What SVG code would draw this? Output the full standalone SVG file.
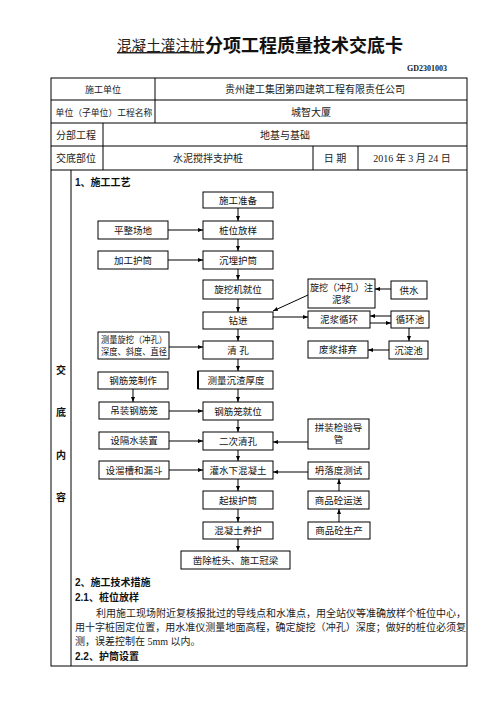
<svg xmlns="http://www.w3.org/2000/svg" width="496" height="702" viewBox="0 0 496 702">
<defs>
<style>
.t{font-family:"Liberation Serif","Noto Sans CJK SC",serif;fill:#222;}
.s{font-family:"Liberation Sans","Noto Sans CJK SC",sans-serif;fill:#111;}
.b{font-weight:bold;}
.box{fill:#fff;stroke:#000;stroke-width:1;}
.grid{stroke:#000;stroke-width:1;fill:none;}
.c line{stroke:#000;stroke-width:1;}
</style>
<marker id="a" viewBox="0 0 10 10" refX="10" refY="5" markerWidth="5" markerHeight="5" orient="auto"><path d="M0,1 L10,5 L0,9 z" fill="#000"/></marker>
</defs>
<rect width="496" height="702" fill="#fff"/>
<!-- title -->
<text class="t" x="117" y="51" font-size="14.6" fill="#333" text-decoration="underline">混凝土灌注桩</text>
<text class="s b" x="205" y="52" font-size="18">分项工程质量技术交底卡</text>
<text class="t b" x="447" y="71" font-size="8" text-anchor="end">GD2301003</text>
<!-- table -->
<g id="table">
<rect class="grid" x="51" y="78" width="416" height="588"/>
<line class="grid" x1="51" y1="100" x2="467" y2="100"/>
<line class="grid" x1="51" y1="123" x2="467" y2="123"/>
<line class="grid" x1="51" y1="146" x2="467" y2="146"/>
<line class="grid" x1="51" y1="170" x2="467" y2="170"/>
<line class="grid" x1="155" y1="78" x2="155" y2="123"/>
<line class="grid" x1="103" y1="123" x2="103" y2="170"/>
<line class="grid" x1="313" y1="146" x2="313" y2="170"/>
<line class="grid" x1="358" y1="146" x2="358" y2="170"/>
<line class="grid" x1="71" y1="170" x2="71" y2="666"/>
<text class="t" x="103" y="93" font-size="9" text-anchor="middle">施工单位</text>
<text class="t" x="315" y="93" font-size="10" text-anchor="middle">贵州建工集团第四建筑工程有限责任公司</text>
<text class="t" x="104" y="116" font-size="8.8" text-anchor="middle">单位（子单位）工程名称</text>
<text class="t" x="311" y="116" font-size="10" text-anchor="middle">城智大厦</text>
<text class="t" x="76" y="139" font-size="10" text-anchor="middle">分部工程</text>
<text class="t" x="285" y="139" font-size="10" text-anchor="middle">地基与基础</text>
<text class="t" x="76" y="162" font-size="10" text-anchor="middle">交底部位</text>
<text class="t" x="208" y="162" font-size="10" text-anchor="middle">水泥搅拌支护桩</text>
<text class="t" x="335" y="162" font-size="10" text-anchor="middle">日  期</text>
<text class="t" x="412" y="162" font-size="10" text-anchor="middle">2016 年 3 月 24 日</text>
<text class="s b" x="61" y="374" font-size="10" text-anchor="middle">交</text>
<text class="s b" x="61" y="416" font-size="10" text-anchor="middle">底</text>
<text class="s b" x="61" y="459" font-size="10" text-anchor="middle">内</text>
<text class="s b" x="61" y="501" font-size="10" text-anchor="middle">容</text>
<text class="s b" x="75" y="186" font-size="10">1、施工工艺</text>
</g>
<!-- connectors -->
<g id="connectors" class="c">
<line x1="238" y1="208" x2="238" y2="221" marker-end="url(#a)"/>
<line x1="238" y1="239" x2="238" y2="251" marker-end="url(#a)"/>
<line x1="238" y1="269" x2="238" y2="280" marker-end="url(#a)"/>
<line x1="238" y1="299" x2="238" y2="312" marker-end="url(#a)"/>
<line x1="238" y1="329" x2="238" y2="341" marker-end="url(#a)"/>
<line x1="238" y1="359" x2="238" y2="371" marker-end="url(#a)"/>
<line x1="238" y1="389" x2="238" y2="402" marker-end="url(#a)"/>
<line x1="238" y1="420" x2="238" y2="432" marker-end="url(#a)"/>
<line x1="238" y1="450" x2="238" y2="461" marker-end="url(#a)"/>
<line x1="238" y1="479" x2="238" y2="491" marker-end="url(#a)"/>
<line x1="238" y1="509" x2="238" y2="522" marker-end="url(#a)"/>
<line x1="238" y1="539" x2="238" y2="551" marker-end="url(#a)"/>
<line x1="168" y1="230" x2="203" y2="230" marker-end="url(#a)"/>
<line x1="168" y1="260" x2="203" y2="260" marker-end="url(#a)"/>
<line x1="169" y1="347" x2="203" y2="347" marker-end="url(#a)"/>
<line x1="169" y1="411" x2="203" y2="411" marker-end="url(#a)"/>
<line x1="169" y1="441" x2="203" y2="441" marker-end="url(#a)"/>
<line x1="169" y1="470" x2="203" y2="470" marker-end="url(#a)"/>
<line x1="133" y1="389" x2="133" y2="402" marker-end="url(#a)"/>
<line x1="391" y1="289" x2="375" y2="289" marker-end="url(#a)"/>
<line x1="308" y1="295" x2="273" y2="311" marker-end="url(#a)"/>
<line x1="273" y1="317" x2="308" y2="317" marker-end="url(#a)"/>
<line x1="391" y1="316" x2="370" y2="316" marker-end="url(#a)"/>
<line x1="370" y1="323" x2="391" y2="323" marker-end="url(#a)"/>
<line x1="409" y1="328" x2="409" y2="341" marker-end="url(#a)"/>
<line x1="389" y1="350" x2="368" y2="350" marker-end="url(#a)"/>
<line x1="308" y1="442" x2="273" y2="442" marker-end="url(#a)"/>
<line x1="308" y1="472" x2="273" y2="472" marker-end="url(#a)"/>
<line x1="339" y1="491" x2="339" y2="479" marker-end="url(#a)"/>
<line x1="339" y1="522" x2="339" y2="509" marker-end="url(#a)"/>
</g>
<!-- nodes -->
<g id="n1"><rect class="box" x="203" y="192" width="70" height="16"/><text class="s" x="238" y="203.5" font-size="9.5" text-anchor="middle">施工准备</text></g>
<g id="n2"><rect class="box" x="203" y="221" width="70" height="18"/><text class="s" x="238" y="233.5" font-size="9.5" text-anchor="middle">桩位放样</text></g>
<g id="n3"><rect class="box" x="203" y="251" width="70" height="18"/><text class="s" x="238" y="263.5" font-size="9.5" text-anchor="middle">沉埋护筒</text></g>
<g id="n4"><rect class="box" x="203" y="280" width="70" height="19"/><text class="s" x="238" y="293" font-size="9.5" text-anchor="middle">旋挖机就位</text></g>
<g id="n5"><rect class="box" x="203" y="312" width="70" height="17"/><text class="s" x="238" y="324" font-size="9.5" text-anchor="middle">钻进</text></g>
<g id="n6"><rect class="box" x="203" y="341" width="70" height="18"/><text class="s" x="238" y="353.5" font-size="9.5" text-anchor="middle">清  孔</text></g>
<g id="n7"><rect class="box" x="198" y="371" width="75" height="18"/><line x1="198" y1="371" x2="198" y2="389" stroke="#000" stroke-width="2"/><text class="s" x="236" y="383.5" font-size="9.5" text-anchor="middle">测量沉渣厚度</text></g>
<g id="n8"><rect class="box" x="203" y="402" width="70" height="18"/><text class="s" x="238" y="414.5" font-size="9.5" text-anchor="middle">钢筋笼就位</text></g>
<g id="n9"><rect class="box" x="203" y="432" width="70" height="18"/><text class="s" x="238" y="444.5" font-size="9.5" text-anchor="middle">二次清孔</text></g>
<g id="n10"><rect class="box" x="203" y="461" width="70" height="18"/><text class="s" x="238" y="473.5" font-size="9.5" text-anchor="middle">灌水下混凝土</text></g>
<g id="n11"><rect class="box" x="203" y="491" width="70" height="18"/><text class="s" x="238" y="503.5" font-size="9.5" text-anchor="middle">起拔护筒</text></g>
<g id="n12"><rect class="box" x="203" y="522" width="70" height="17"/><text class="s" x="238" y="534" font-size="9.5" text-anchor="middle">混凝土养护</text></g>
<g id="n13"><rect class="box" x="181" y="551" width="109" height="18"/><text class="s" x="235.5" y="563.5" font-size="9.5" text-anchor="middle">凿除桩头、施工冠梁</text></g>
<g id="l1"><rect class="box" x="98" y="221" width="70" height="18"/><text class="s" x="133" y="233.5" font-size="9.5" text-anchor="middle">平整场地</text></g>
<g id="l2"><rect class="box" x="98" y="251" width="70" height="18"/><text class="s" x="133" y="263.5" font-size="9.5" text-anchor="middle">加工护筒</text></g>
<g id="l3"><rect class="box" x="98" y="332" width="71" height="27"/><text class="s" x="101" y="343" font-size="9" textLength="66" lengthAdjust="spacingAndGlyphs">测量旋挖（冲孔）</text><text class="s" x="101" y="355" font-size="9" textLength="66" lengthAdjust="spacingAndGlyphs">深度、斜度、直径</text></g>
<g id="l4"><rect class="box" x="98" y="372" width="70" height="17"/><text class="s" x="133" y="384" font-size="9.5" text-anchor="middle">钢筋笼制作</text></g>
<g id="l5"><rect class="box" x="99" y="402" width="70" height="17"/><text class="s" x="134" y="414" font-size="9.5" text-anchor="middle">吊装钢筋笼</text></g>
<g id="l6"><rect class="box" x="99" y="432" width="70" height="17"/><text class="s" x="134" y="444" font-size="9.5" text-anchor="middle">设隔水装置</text></g>
<g id="l7"><rect class="box" x="99" y="461" width="70" height="18"/><text class="s" x="134" y="473.5" font-size="9.5" text-anchor="middle">设溜槽和漏斗</text></g>
<g id="r1"><rect class="box" x="308" y="279" width="67" height="29"/><text class="s" x="310" y="291" font-size="9.5" textLength="63" lengthAdjust="spacingAndGlyphs">旋挖（冲孔）注</text><text class="s" x="341.5" y="303" font-size="9.5" text-anchor="middle">泥浆</text></g>
<g id="r2"><rect class="box" x="391" y="281" width="36" height="18"/><text class="s" x="409" y="293.5" font-size="9.5" text-anchor="middle">供水</text></g>
<g id="r3"><rect class="box" x="308" y="311" width="62" height="17"/><text class="s" x="339" y="323" font-size="9.5" text-anchor="middle">泥浆循环</text></g>
<g id="r4"><rect class="box" x="391" y="311" width="38" height="17"/><text class="s" x="410" y="323" font-size="9.5" text-anchor="middle">循环池</text></g>
<g id="r5"><rect class="box" x="308" y="341" width="60" height="17"/><text class="s" x="338" y="353" font-size="9.5" text-anchor="middle">废浆排弃</text></g>
<g id="r6"><rect class="box" x="389" y="341" width="39" height="18"/><text class="s" x="408.5" y="353.5" font-size="9.5" text-anchor="middle">沉淀池</text></g>
<g id="r7"><rect class="box" x="308" y="419" width="61" height="30"/><text class="s" x="338.5" y="431" font-size="9.5" text-anchor="middle">拼装检验导</text><text class="s" x="338.5" y="443" font-size="9.5" text-anchor="middle">管</text></g>
<g id="r8"><rect class="box" x="308" y="462" width="61" height="17"/><text class="s" x="338.5" y="474" font-size="9.5" text-anchor="middle">坍落度测试</text></g>
<g id="r9"><rect class="box" x="308" y="491" width="61" height="18"/><text class="s" x="338.5" y="503.5" font-size="9.5" text-anchor="middle">商品砼运送</text></g>
<g id="r10"><rect class="box" x="308" y="522" width="62" height="17"/><text class="s" x="339" y="534" font-size="9.5" text-anchor="middle">商品砼生产</text></g>
<!-- section 2 -->
<g id="sec2">
<text class="s b" x="75" y="586" font-size="10">2、施工技术措施</text>
<text class="s b" x="75" y="601" font-size="10">2.1、桩位放样</text>
<text class="t" x="96" y="617" font-size="10" textLength="370" lengthAdjust="spacingAndGlyphs">利用施工现场附近复核报批过的导线点和水准点，用全站仪等准确放样个桩位中心，</text>
<text class="t" x="75" y="631" font-size="10" textLength="391" lengthAdjust="spacingAndGlyphs">用十字桩固定位置，用水准仪测量地面高程，确定旋挖（冲孔）深度；做好的桩位必须复</text>
<text class="t" x="75" y="645" font-size="10">测，误差控制在 5mm 以内。</text>
<text class="s b" x="75" y="660" font-size="10">2.2、护筒设置</text>
</g>
</svg>
